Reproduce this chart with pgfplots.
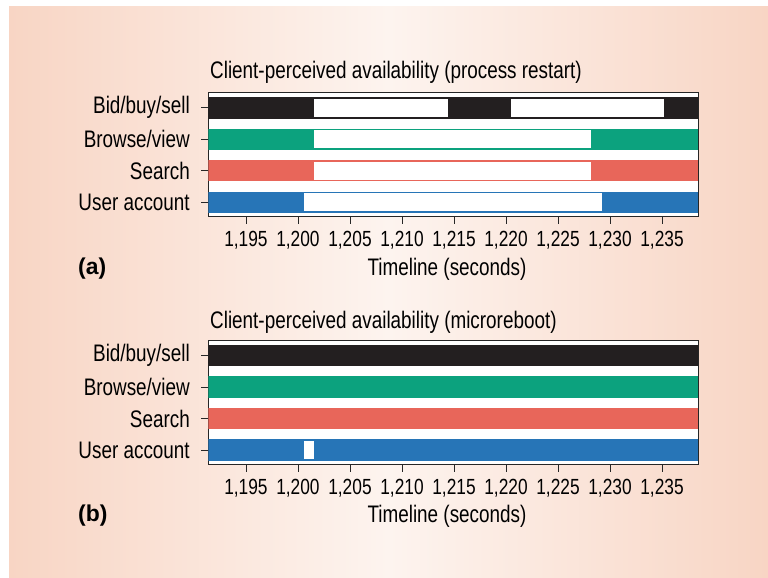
\documentclass[border=0pt]{standalone}
\usepackage{fontspec}
\setmainfont{Liberation Sans}[FakeStretch=0.79]
\newfontfamily\panelfont{Liberation Sans}
\usepackage{pgfplots}
\pgfplotsset{compat=1.18}
\definecolor{cBid}{HTML}{231F20}
\definecolor{cBrowse}{HTML}{0CA27E}
\definecolor{cSearch}{HTML}{E8665A}
\definecolor{cUser}{HTML}{2775B7}
\definecolor{bgEdge}{HTML}{F8D5C4}
\definecolor{bgMid}{HTML}{FDF4EF}
\newcommand{\lblfont}{\fontsize{24}{28}\selectfont}
\newcommand{\tickfont}{\fontsize{22}{26}\selectfont}
% segment: x1, x2, ylow, yhigh, fill colour
\newcommand{\seg}[5]{\addplot[fill=#5, draw=none, forget plot] coordinates {(#1,#3) (#2,#3) (#2,#4) (#1,#4)} -- cycle;}
\pgfplotsset{avail/.style={
  scale only axis, width=490bp, height=124bp,
  xmin=1191.38, xmax=1238.49, ymin=0.52, ymax=4.46, y dir=reverse,
  axis background/.style={fill=white},
  axis line style={line width=1.4bp, color=black!85},
  xtick={1195,1200,1205,1210,1215,1220,1225,1230,1235},
  ytick={1,2,3,4},
  yticklabels={Bid/buy/sell, Browse/view, Search, User account},
  tick align=outside, major tick length=7bp,
  tick style={line width=0.9bp, color=black!85},
  xtick pos=left, ytick pos=left,
  /pgf/number format/.cd, 1000 sep={,}, assume math mode=true, /pgfplots/.cd,
  x tick label style={font=\tickfont, yshift=-4bp},
  y tick label style={font=\lblfont, xshift=-8bp},
}}
\begin{document}
\begin{tikzpicture}[x=1bp, y=1bp]
\fill[white] (0,0) rectangle (768,-578);
\path[use as bounding box] (0,0) rectangle (768,-578);
\shade[left color=bgEdge, right color=bgEdge, middle color=bgMid] (9,-7) rectangle (768,-578);

% Panel (a)
\begin{axis}[avail, at={(208.3bp,-216.7bp)}, anchor=south west]
\seg{1191.38}{1238.49}{0.66}{1.34}{cBid}
\seg{1191.38}{1238.49}{1.66}{2.34}{cBrowse}
\seg{1191.38}{1238.49}{2.66}{3.34}{cSearch}
\seg{1191.38}{1238.49}{3.66}{4.34}{cUser}
% outages (white, inset)
\seg{1201.5}{1214.4}{0.72}{1.28}{white}
\seg{1220.5}{1235.2}{0.72}{1.28}{white}
\seg{1201.5}{1228.2}{1.72}{2.28}{white}
\seg{1201.5}{1228.2}{2.72}{3.28}{white}
\seg{1200.6}{1229.2}{3.72}{4.28}{white}
\end{axis}
\node[anchor=base west, font=\lblfont, inner sep=0pt] at (210,-79) {Client-perceived availability (process restart)};
\node[anchor=base, font=\lblfont, inner sep=0pt] at (447,-275) {Timeline (seconds)};
\node[anchor=base west, font=\panelfont\fontsize{23}{26}\selectfont\bfseries, inner sep=0pt] at (78,-274) {(a)};

% Panel (b)
\begin{axis}[avail, at={(208.3bp,-464.5bp)}, anchor=south west]
\seg{1191.38}{1238.49}{0.66}{1.34}{cBid}
\seg{1191.38}{1238.49}{1.66}{2.34}{cBrowse}
\seg{1191.38}{1238.49}{2.66}{3.34}{cSearch}
\seg{1191.38}{1238.49}{3.66}{4.34}{cUser}
\seg{1200.6}{1201.5}{3.72}{4.28}{white}
\end{axis}
\node[anchor=base west, font=\lblfont, inner sep=0pt] at (210,-328) {Client-perceived availability (microreboot)};
\node[anchor=base, font=\lblfont, inner sep=0pt] at (447,-522) {Timeline (seconds)};
\node[anchor=base west, font=\panelfont\fontsize{23}{26}\selectfont\bfseries, inner sep=0pt] at (78,-521) {(b)};
\end{tikzpicture}
\end{document}
